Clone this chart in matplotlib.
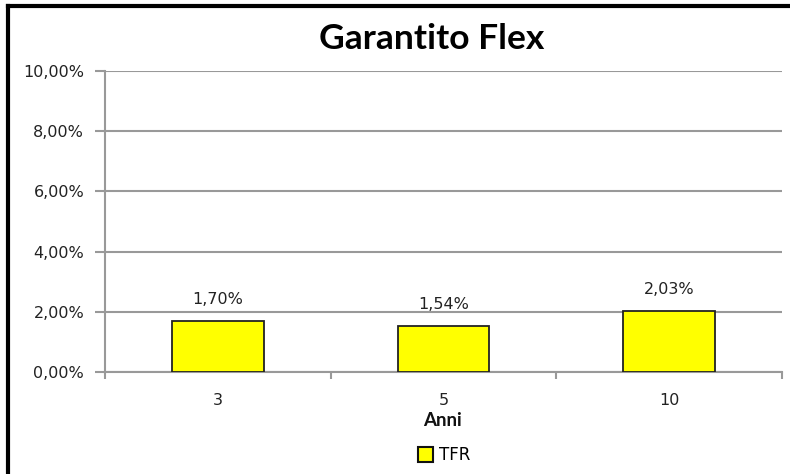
import matplotlib.pyplot as plt
from matplotlib.lines import Line2D
from matplotlib.patches import Patch
import numpy as np

categories = ["3", "5", "10"]
tfr = [1.70, 1.54, 2.03]
yticks = [0, 2, 4, 6, 8, 10]

def pct(v):
    return ("%.2f%%" % v).replace(".", ",")

fig = plt.figure(figsize=(7.9, 4.74), dpi=100)
ax = fig.add_axes([105 / 790, 1 - 372 / 474, 677 / 790, 301 / 474])

x = np.arange(len(categories))
ax.bar(x, tfr, width=0.405, color="#ffff00", edgecolor="#222222", linewidth=1.3, zorder=3)
for xi, v in zip(x, tfr):
    ax.text(xi, v + 0.7, pct(v), ha="center", va="center", fontsize=11.5,
            family="DejaVu Sans", color="#222222")

ax.set_xlim(-0.5, len(categories) - 0.5)
ax.set_ylim(0, 10)
ax.set_yticks(yticks)
ax.set_yticklabels([pct(v) for v in yticks], fontsize=11.5, family="DejaVu Sans", color="#222222")
ax.set_xticks(x)
ax.set_xticklabels(categories, fontsize=11.5, family="DejaVu Sans", color="#222222")
ax.set_xticks(np.arange(len(categories) + 1) - 0.5, minor=True)
ax.tick_params(axis="x", which="major", length=0, pad=15)
ax.tick_params(axis="x", which="minor", length=5, color="#999999", width=1.5)
ax.tick_params(axis="y", length=7, color="#999999", width=1.5, pad=8)
ax.yaxis.grid(True, color="#999999", linewidth=1.5, zorder=0)
for s in ["top", "right"]:
    ax.spines[s].set_visible(False)
for s in ["left", "bottom"]:
    ax.spines[s].set_color("#999999")
    ax.spines[s].set_linewidth(1.5)

fig.text(442 / 790, 1 - 420 / 474, "Anni", ha="center", va="center",
         fontsize=13.5, fontweight="bold", family="Lato", color="#111111")
fig.text(432 / 790, 1 - 39 / 474, "Garantito Flex", ha="center", va="center",
         fontsize=25.5, fontweight="bold", family="Lato")

handles = [Patch(facecolor="#ffff00", edgecolor="#111111", linewidth=1.5, label="TFR")]
fig.legend(handles=handles, loc="center", bbox_to_anchor=(444 / 790, 1 - 455 / 474),
           frameon=False, handlelength=0.9, handleheight=1.0,
           handletextpad=0.35, prop={"family": "DejaVu Sans", "size": 12})

fig.add_artist(Line2D([8 / 790, 8 / 790], [0, 1 - 6 / 474], color="black", linewidth=3))
fig.add_artist(Line2D([8 / 790, 1], [1 - 6 / 474, 1 - 6 / 474], color="black", linewidth=3))

fig.savefig("out.png", dpi=100)
